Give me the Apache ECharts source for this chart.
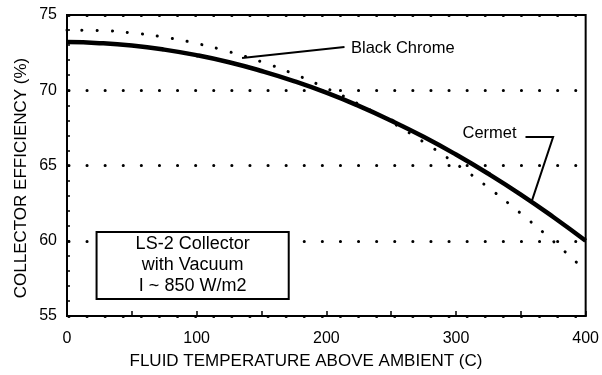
<!DOCTYPE html>
<html><head><meta charset="utf-8">
<script src="https://cdn.jsdelivr.net/npm/echarts@6/dist/echarts.min.js"></script>
<style>html,body{margin:0;padding:0;background:#fff}#c{width:602px;height:375px}</style>
</head><body><div id="c"></div>
<script>
// Fluid temperature above ambient (C)
const temps = [0, 25, 50, 75, 100, 125, 150, 175, 200, 225, 250, 275, 300, 325, 350, 375, 400];
// Cermet collector efficiency (%) - solid curve
const cermet = [73.2, 73.13, 72.97, 72.7, 72.33, 71.86, 71.28, 70.61, 69.84, 68.96, 67.98, 66.91, 65.73, 64.45, 63.07, 61.58, 60.0];
// Black Chrome collector efficiency (%) - dotted curve
const blackChrome = [74.0, 73.97, 73.81, 73.53, 73.11, 72.56, 71.89, 71.08, 70.14, 69.08, 67.89, 66.56, 65.11, 63.53, 61.81, 59.97, 58.0];
const xTickLabels = ['0', '100', '200', '300', '400'];
const yTickLabels = ['55', '60', '65', '70', '75'];
const boxLines = ['LS-2 Collector', 'with Vacuum', 'I ~ 850 W/m2'];

const FONT = "'Liberation Sans', Arial, Helvetica, sans-serif";
const chart = echarts.init(document.getElementById('c'), null, {renderer: 'canvas'});

const option = {
  animation: false,
  backgroundColor: '#fff',
  grid: {left: 67, right: 9, top: 15, bottom: 59, show: true, borderColor: '#000', borderWidth: 2, backgroundColor: 'transparent'},
  xAxis: {
    type: 'value', min: 0, max: 400, interval: 100,
    axisLine: {show: true, lineStyle: {color: '#000', width: 2}},
    axisTick: {show: true, inside: true, length: 5, lineStyle: {color: '#000', width: 1.5}},
    minorTick: {show: true, splitNumber: 2, length: 5, lineStyle: {color: '#000', width: 1.5}},
    splitLine: {show: false},
    axisLabel: {color: '#000', fontFamily: FONT, fontSize: 16, margin: 15,
      formatter: v => xTickLabels[xTickLabels.indexOf(String(v))] || ''}
  },
  yAxis: {
    type: 'value', min: 55, max: 75, interval: 5,
    axisLine: {show: true, lineStyle: {color: '#000', width: 2}},
    axisTick: {show: true, inside: true, length: 3, lineStyle: {color: '#000', width: 1.5}},
    minorTick: {show: true, splitNumber: 5, length: 3, lineStyle: {color: '#000', width: 1.5}},
    splitLine: {show: true, lineStyle: {color: '#000', width: 3, type: [0.1, 18], cap: 'round', dashOffset: -20}},
    axisLabel: {color: '#000', fontFamily: FONT, fontSize: 16, margin: 10,
      formatter: v => yTickLabels[yTickLabels.indexOf(String(v))] || ''}
  },
  series: [
    {
      name: 'Black Chrome', type: 'line', smooth: true, symbol: 'none',
      data: temps.map((t, i) => [t, blackChrome[i]]),
      lineStyle: {color: '#000', width: 3, type: [0.1, 15], cap: 'round'}, z: 3
    },
    {
      name: 'Cermet', type: 'line', smooth: true, symbol: 'none',
      data: temps.map((t, i) => [t, cermet[i]]),
      lineStyle: {color: '#000', width: 4.5}, z: 4
    }
  ]
};
chart.setOption(option);

const P = (x, y) => chart.convertToPixel({xAxisIndex: 0, yAxisIndex: 0}, [x, y]);

// annotation anchors in data coordinates
const bcLeader = [[135, 72.14], [214, 72.87]];
const bcText = [219, 72.8];
const cmLeader = [[353.6, 66.89], [374.9, 66.89], [358.2, 62.57]];
const cmText = [305, 67.16];
const box = [[22.8, 60.58], [171, 56.13]];

const b0 = P(box[0][0], box[0][1]), b1 = P(box[1][0], box[1][1]);
const bcx = (b0[0] + b1[0]) / 2, bcy = (b0[1] + b1[1]) / 2;
const graphics = [
  {type: 'polyline', shape: {points: bcLeader.map(p => P(p[0], p[1]))}, style: {stroke: '#000', lineWidth: 2, fill: null}, z: 10},
  {type: 'text', x: P(bcText[0], bcText[1])[0], y: P(bcText[0], bcText[1])[1],
    style: {text: 'Black Chrome', fill: '#000', font: '16.5px ' + FONT, verticalAlign: 'middle'}, z: 10},
  {type: 'polyline', shape: {points: cmLeader.map(p => P(p[0], p[1]))}, style: {stroke: '#000', lineWidth: 2, fill: null}, z: 10},
  {type: 'text', x: P(cmText[0], cmText[1])[0], y: P(cmText[0], cmText[1])[1],
    style: {text: 'Cermet', fill: '#000', font: '16.5px ' + FONT, verticalAlign: 'middle'}, z: 10},
  {type: 'rect', shape: {x: b0[0], y: b0[1], width: b1[0] - b0[0], height: b1[1] - b0[1]},
    style: {fill: '#fff', stroke: '#000', lineWidth: 2}, z: 10},
  {type: 'text', x: bcx, y: bcy,
    style: {text: boxLines.join('\n'), fill: '#000', font: '18px ' + FONT, align: 'center', verticalAlign: 'middle', lineHeight: 21}, z: 11},
  {type: 'text', x: 306, y: 361,
    style: {text: 'FLUID TEMPERATURE ABOVE AMBIENT (C)', fill: '#000', font: '17px ' + FONT, align: 'center', verticalAlign: 'middle'}, z: 10},
  {type: 'text', x: 21, y: 178, rotation: Math.PI / 2,
    style: {text: 'COLLECTOR EFFICIENCY (%)', fill: '#000', font: '17px ' + FONT, align: 'center', verticalAlign: 'middle'}, z: 10}
];
chart.setOption({graphic: graphics});
</script></body></html>
